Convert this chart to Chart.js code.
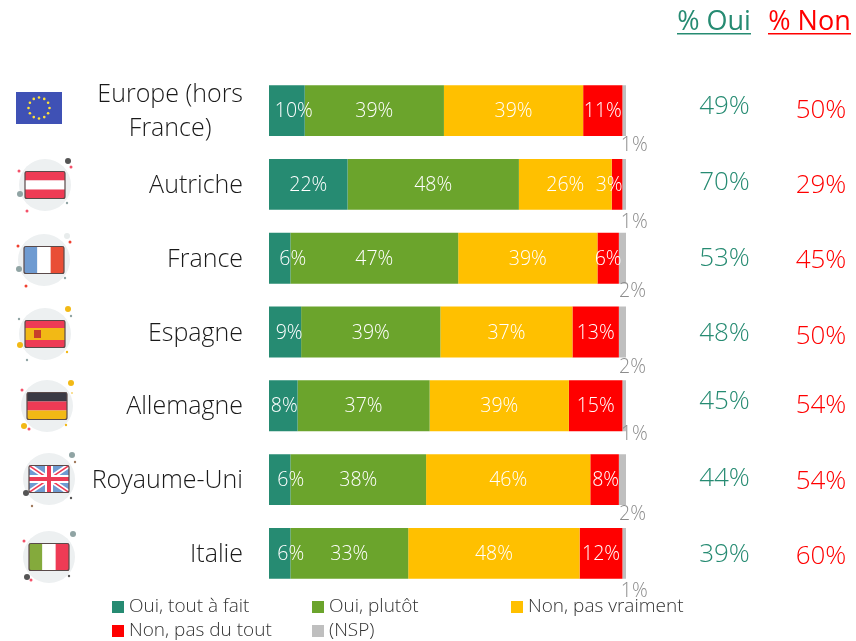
<!DOCTYPE html>
<html>
<head>
<meta charset="utf-8">
<style>
  html, body { margin: 0; padding: 0; background: #fff; }
  canvas { display: block; }
</style>
<script src="https://cdn.jsdelivr.net/npm/chart.js@4"></script>
</head>
<body>
<canvas id="graphique" width="856" height="641"></canvas>
<script>
const pays = [['Europe (hors', 'France)'], ['Autriche'], ['France'], ['Espagne'], ['Allemagne'], ['Royaume-Uni'], ['Italie']];
const toutAFait = [10, 22, 6, 9, 8, 6, 6];
const plutot = [39, 48, 47, 39, 37, 38, 33];
const pasVraiment = [39, 26, 39, 37, 39, 46, 48];
const pasDuTout = [11, 3, 6, 13, 15, 8, 12];
const nsp = [1, 1, 2, 2, 1, 2, 1];
const pctOui = [49, 70, 53, 48, 45, 44, 39];
const pctNon = [50, 29, 45, 50, 54, 54, 60];

const POLICE = '"Open Sans", sans-serif';
const VERT = '#268b72';
const ROUGE = '#ff0000';

// petits decalages des etiquettes
const decalage1 = [7, 0, 13, 4, 1, 11, 11];
const decalage4 = [0, -8, 0, 0, 0, 1, 0];
const decalageNsp = [8, 12, 7, 9, 2, 8, 12];
const decalageOui = [-4, -2, 0, 2, -4, -1, 1];
const decalageNon = [0, 1, 2, 5, 0, 2, 3];

function texte(ctx, str, x, y, font, color, align) {
    ctx.font = font;
    ctx.fillStyle = color;
    ctx.textAlign = align || 'center';
    ctx.textBaseline = 'middle';
    ctx.fillText(str, x, y);
}

const etiquettes = {
    id: 'etiquettes',
    afterDatasetsDraw(chart) {
        const ctx = chart.ctx;
        const yScale = chart.scales.y;
        ctx.save();

        // noms des pays
        pays.forEach((lignes, i) => {
            const y = yScale.getPixelForValue(i) + 1.5;
            const police = '300 25px ' + POLICE;
            ctx.font = police;
            if (lignes.length > 1) {
                const largeur = Math.max(...lignes.map(l => ctx.measureText(l).width));
                const cx = 243 - largeur / 2;
                texte(ctx, lignes[0], cx, y - 17, police, '#1a1a1a');
                texte(ctx, lignes[1], cx, y + 17, police, '#1a1a1a');
            } else {
                texte(ctx, lignes[0], 243, y, police, '#1a1a1a', 'right');
            }
        });

        // valeurs dans les barres
        chart.data.datasets.forEach((ds, d) => {
            const meta = chart.getDatasetMeta(d);
            meta.data.forEach((bar, i) => {
                const cx = (bar.base + bar.x) / 2;
                const val = ds.data[i] + '%';
                if (d === 4) {
                    texte(ctx, val, cx + 10, bar.y + bar.height / 2 + decalageNsp[i] + 1, '300 19.5px ' + POLICE, '#8c8c8c');
                } else {
                    let dx = 0;
                    if (d === 0) dx = decalage1[i];
                    if (d === 3) dx = decalage4[i];
                    texte(ctx, val, cx + dx, bar.y + 1, '300 19.5px ' + POLICE, '#fff');
                }
            });
        });

        // colonnes de droite
        pctOui.forEach((v, i) => {
            const y = yScale.getPixelForValue(i);
            texte(ctx, v + '%', 724.5, y + decalageOui[i], '300 26px ' + POLICE, VERT);
            texte(ctx, pctNon[i] + '%', 821, y + decalageNon[i], '300 26px ' + POLICE, ROUGE);
        });
        texte(ctx, '% Oui', 714, 22, '400 27px ' + POLICE, VERT);
        ctx.fillRect(677, 33, 74, 1.5);
        texte(ctx, '% Non', 809.5, 22, '400 27px ' + POLICE, ROUGE);
        ctx.fillRect(768, 33, 83, 1.5);

        // legende
        const colX = [112, 312, 511, 112, 312];
        const colY = [607, 607, 607, 631, 631];
        chart.data.datasets.forEach((ds, d) => {
            ctx.fillStyle = ds.backgroundColor;
            ctx.fillRect(colX[d], colY[d] - 6, 12, 12);
            texte(ctx, ds.label, colX[d] + 17, colY[d], '300 19px ' + POLICE, '#333', 'left');
        });
        ctx.restore();
    }
};

// drapeaux decoratifs
const CORAIL = '#ee3b55', JAUNE = '#f2b915', GRIS = '#90a4a4', SOMBRE = '#555555', ROSE = '#f4526a', BRUN = '#a0795c';

function bandes(ctx, x, y, w, h, couleurs, vertical, poids) {
    const total = poids ? poids.reduce((a, b) => a + b, 0) : couleurs.length;
    let pos = 0;
    couleurs.forEach((c, i) => {
        const p = (poids ? poids[i] : 1) / total;
        ctx.fillStyle = c;
        if (vertical) ctx.fillRect(x + pos * w, y, p * w, h);
        else ctx.fillRect(x, y + pos * h, w, p * h);
        pos += p;
    });
}

function union(ctx, x, y, w, h) {
    ctx.fillStyle = '#6f9bd1';
    ctx.fillRect(x, y, w, h);
    ctx.save();
    ctx.beginPath();
    ctx.rect(x, y, w, h);
    ctx.clip();
    ctx.strokeStyle = '#fff';
    ctx.lineWidth = 5;
    ctx.beginPath();
    ctx.moveTo(x, y); ctx.lineTo(x + w, y + h);
    ctx.moveTo(x + w, y); ctx.lineTo(x, y + h);
    ctx.stroke();
    ctx.strokeStyle = CORAIL;
    ctx.lineWidth = 1.5;
    ctx.stroke();
    ctx.strokeStyle = '#fff';
    ctx.lineWidth = 8;
    ctx.beginPath();
    ctx.moveTo(x + w / 2, y); ctx.lineTo(x + w / 2, y + h);
    ctx.moveTo(x, y + h / 2); ctx.lineTo(x + w, y + h / 2);
    ctx.stroke();
    ctx.strokeStyle = CORAIL;
    ctx.lineWidth = 4;
    ctx.stroke();
    ctx.restore();
}

const drapeaux = [
    { cx: 45, cy: 185, dessin: (c, x, y, w, h) => bandes(c, x, y, w, h, [CORAIL, '#fff', CORAIL], false),
      points: [[68, 161, 3, SOMBRE], [71, 167, 1.5, ROSE], [19, 171, 1.5, ROSE], [20, 194, 3, GRIS], [67, 203, 1.2, GRIS], [27, 211, 1.5, ROSE]] },
    { cx: 44, cy: 260, dessin: (c, x, y, w, h) => bandes(c, x, y, w, h, ['#6f9bd1', '#fff', '#e94e36'], true),
      points: [[67, 236, 3, '#e8ecec'], [70, 242, 1.5, '#f04030'], [18, 246, 1.5, '#f04030'], [19, 269, 3, GRIS], [65, 278, 1.2, GRIS], [26, 286, 1.5, '#f04030']] },
    { cx: 45, cy: 334, dessin: (c, x, y, w, h) => {
        bandes(c, x, y, w, h, [CORAIL, JAUNE, CORAIL], false, [1, 1.6, 1]);
        c.fillStyle = '#c8402a';
        c.fillRect(x + 9, y + h / 2 - 4, 7, 8);
      },
      points: [[68, 309, 3, JAUNE], [71, 316, 1.2, GRIS], [19, 319, 1.2, GRIS], [20, 345, 3, JAUNE], [67, 352, 1.2, JAUNE], [27, 360, 1.2, GRIS]] },
    { cx: 47, cy: 406, dessin: (c, x, y, w, h) => bandes(c, x, y, w, h, ['#3a3a44', CORAIL, JAUNE], false),
      points: [[71, 383, 3, JAUNE], [72, 393, 0.8, JAUNE], [22, 390, 1.5, ROSE], [24, 426, 3, JAUNE], [29, 429, 1.5, ROSE], [66, 425, 1.2, JAUNE]] },
    { cx: 49, cy: 479, dessin: union,
      points: [[72, 455, 3, GRIS], [75, 462, 1.2, BRUN], [26, 493, 3, SOMBRE], [71, 498, 1.2, SOMBRE], [32, 506, 1.2, BRUN]] },
    { cx: 49, cy: 557, dessin: (c, x, y, w, h) => bandes(c, x, y, w, h, ['#84aa3c', '#fff', CORAIL], true),
      points: [[73, 534, 3, GRIS], [24, 541, 1.5, ROSE], [27, 577, 3, SOMBRE], [31, 580, 1.5, ROSE], [69, 576, 1.2, SOMBRE]] }
];

const pluginDrapeaux = {
    id: 'drapeaux',
    afterDraw(chart) {
        const ctx = chart.ctx;
        ctx.save();

        // drapeau europeen
        ctx.fillStyle = '#3f51b5';
        ctx.fillRect(16, 92, 46, 32);
        ctx.fillStyle = '#ffe13a';
        for (let k = 0; k < 12; k++) {
            const a = k * Math.PI / 6;
            ctx.beginPath();
            ctx.arc(39 + Math.cos(a) * 10.5, 108 + Math.sin(a) * 10.5, 1.3, 0, 2 * Math.PI);
            ctx.fill();
        }

        drapeaux.forEach(f => {
            ctx.fillStyle = '#edf0f1';
            ctx.beginPath();
            ctx.arc(f.cx, f.cy, 26, 0, 2 * Math.PI);
            ctx.fill();
            f.points.forEach(p => {
                ctx.fillStyle = p[3];
                ctx.beginPath();
                ctx.arc(p[0], p[1], p[2], 0, 2 * Math.PI);
                ctx.fill();
            });
            const x = f.cx - 20, y = f.cy - 13.5, w = 40, h = 27;
            f.dessin(ctx, x, y, w, h);
            ctx.strokeStyle = '#5a4a4a';
            ctx.lineWidth = 1.2;
            ctx.beginPath();
            ctx.roundRect(x, y, w, h, 2);
            ctx.stroke();
        });
        ctx.restore();
    }
};

new Chart(document.getElementById('graphique'), {
    type: 'bar',
    data: {
        labels: pays.map(l => l.join(' ')),
        datasets: [
            { label: 'Oui, tout à fait', data: toutAFait, backgroundColor: '#268b72' },
            { label: 'Oui, plutôt', data: plutot, backgroundColor: '#6ba42c' },
            { label: 'Non, pas vraiment', data: pasVraiment, backgroundColor: '#ffc000' },
            { label: 'Non, pas du tout', data: pasDuTout, backgroundColor: '#ff0000' },
            { label: '(NSP)', data: nsp, backgroundColor: '#bfbfbf' }
        ]
    },
    options: {
        indexAxis: 'y',
        responsive: false,
        animation: false,
        barPercentage: 0.69,
        categoryPercentage: 1,
        layout: { padding: { left: 269, right: 230, top: 73.7, bottom: 50.7 } },
        scales: {
            x: { stacked: true, min: 0, max: 100, display: false },
            y: { stacked: true, display: false }
        },
        plugins: {
            legend: { display: false },
            tooltip: { enabled: false }
        }
    },
    plugins: [etiquettes, pluginDrapeaux]
});
</script>
</body>
</html>
